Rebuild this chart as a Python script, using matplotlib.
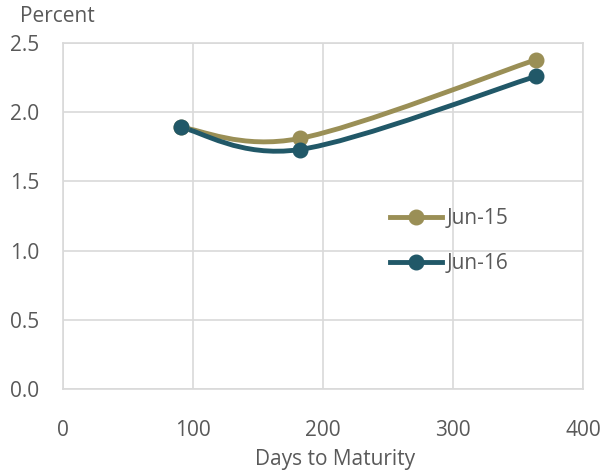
import matplotlib
matplotlib.use('Agg')
import matplotlib.pyplot as plt
from matplotlib.path import Path
from matplotlib.patches import PathPatch
from matplotlib.lines import Line2D

plt.rcParams['font.family'] = ['Open Sans', 'DejaVu Sans']

days = [91, 182, 364]
jun15 = [1.89, 1.81, 2.38]
jun16 = [1.89, 1.73, 2.26]
series_names = ['Jun-15', 'Jun-16']

c15 = '#9A8F56'
c16 = '#215868'
grid_c = '#D9D9D9'
text_c = '#595959'


def smooth_path(xs, ys):
    # Excel-style smoothed line: cubic Bezier through points
    pts = list(zip(xs, ys))
    verts = [pts[0]]
    codes = [Path.MOVETO]
    n = len(pts)
    for i in range(n - 1):
        p0 = pts[i - 1] if i > 0 else pts[i]
        p1 = pts[i]
        p2 = pts[i + 1]
        p3 = pts[i + 2] if i + 2 < n else pts[i + 1]
        c1 = (p1[0] + (p2[0] - p0[0]) / 6, p1[1] + (p2[1] - p0[1]) / 6)
        c2 = (p2[0] - (p3[0] - p1[0]) / 6, p2[1] - (p3[1] - p1[1]) / 6)
        verts += [c1, c2, p2]
        codes += [Path.CURVE4] * 3
    return Path(verts, codes)


fig = plt.figure(figsize=(6.01, 4.72), dpi=100)
ax = fig.add_axes([63 / 601, 1 - 389 / 472, 520 / 601, 346 / 472])

for ys, col in [(jun15, c15), (jun16, c16)]:
    ax.add_patch(PathPatch(smooth_path(days, ys), facecolor='none',
                           edgecolor=col, linewidth=3.5, capstyle='round', zorder=3))
    ax.plot(days, ys, linestyle='none', marker='o', markersize=10.5,
            color=col, zorder=4)

ax.set_xlim(0, 400)
ax.set_ylim(0, 2.5)
ax.set_xticks([0, 100, 200, 300, 400])
ax.set_yticks([0, 0.5, 1.0, 1.5, 2.0, 2.5])
ax.set_yticklabels([f'{v:.1f}' for v in [0, 0.5, 1.0, 1.5, 2.0, 2.5]])
ax.grid(True, color=grid_c, linewidth=1.2)
ax.set_axisbelow(True)
for s in ax.spines.values():
    s.set_color(grid_c)
    s.set_linewidth(1.2)
ax.tick_params(length=0, labelsize=15, colors=text_c)
ax.tick_params(axis='x', pad=22)
ax.tick_params(axis='y', pad=17)
fig.text(335 / 601, 1 - 460 / 472, 'Days to Maturity', fontsize=15,
         color=text_c, ha='center', va='center')
fig.text(20 / 601, 1 - 17 / 472, 'Percent', fontsize=15, color=text_c,
         va='center', ha='left')

handles = [Line2D([], [], color=c, linewidth=3.5, marker='o', markersize=10.5)
           for c in (c15, c16)]
leg = ax.legend(handles, series_names, loc='center left',
                bbox_to_anchor=((390 - 63) / 520, (389 - 241) / 346), frameon=False,
                fontsize=15, handlelength=2.5, handletextpad=0.2,
                labelspacing=1.15, labelcolor=text_c, borderpad=0, borderaxespad=0)

fig.savefig('out.png', dpi=100)
